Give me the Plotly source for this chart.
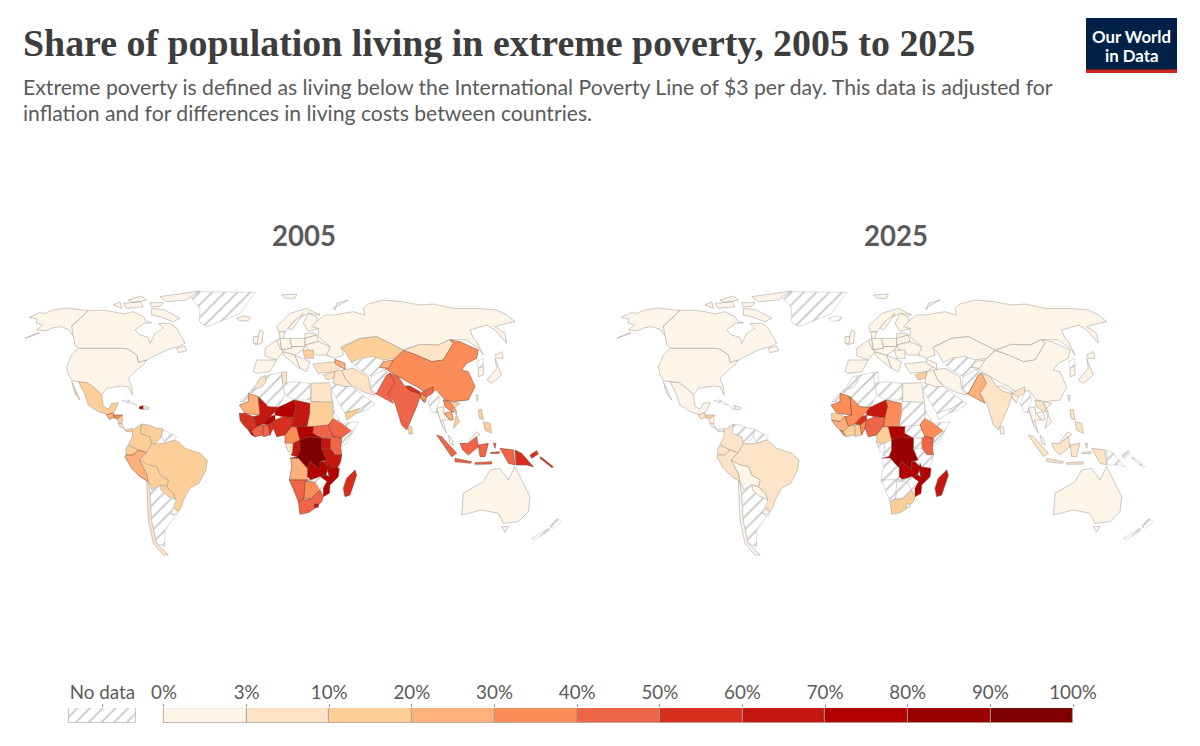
import plotly.graph_objects as go

# the topojson for go.Choropleth is not reachable offline, so outlines are traced by hand from the
# reference. Sheet units are 1/3 px. Countries in east_outlines sit on a sheet shifted 660 units right.
west_outlines = {
    'Alaska': ['88,112 118,98 135,100 160,90 200,84 265,92 215,138 222,152 238,180 232,183 205,148 180,140 160,143 135,153 110,150 128,135 108,128 112,118',
               '75,175 115,157 118,160 78,176'],
    'Canada': ['265,92 300,90 340,95 370,102 400,95 430,110 440,125 455,128 432,130 405,150 420,165 445,172 450,190 465,160 490,145 475,130 510,130 530,145 555,190 535,200 500,210 470,225 440,240 415,248 410,225 385,208 365,205 235,205 225,195 215,140',
               '480,50 600,33 560,60 500,65', '455,85 495,90 540,115 520,125 480,110 455,105', '370,70 420,65 430,80 380,85',
               '340,75 360,65 365,85', '530,205 555,198 560,212 535,218', '385,60 425,48 440,60 400,68', '450,68 490,68 480,80 455,80'],
    'USA': ['235,205 365,205 385,208 410,225 415,248 440,240 430,255 410,270 385,295 395,320 397,345 385,320 365,318 320,325 305,345 285,325 260,308 218,303 205,285 200,260 215,225'],
    'Mexico': ['235,305 262,308 285,325 305,345 310,378 325,388 335,370 355,368 345,392 325,405 295,395 265,375 255,345', '215,305 225,325 240,360 225,340'],
    'Guatemala': ['320,405 340,398 342,412 328,418'],
    'Honduras': ['340,405 368,405 352,418 342,413'],
    'Nicaragua': ['352,418 368,406 366,432 355,430'],
    'Costa Rica': ['355,430 366,432 372,445 360,440'],
    'Panama': ['372,445 378,450 398,445 395,455 380,455'],
    'Cuba': ['365,362 385,360 412,376 395,372'],
    'Haiti': ['418,380 430,377 430,388 418,386'],
    'Dominican Republic': ['430,377 446,382 446,388 430,388'],
    'Colombia': ['425,432 422,460 450,470 455,490 440,518 415,510 385,495 397,470 398,450'],
    'Venezuela': ['425,432 445,435 470,445 488,445 485,470 465,492 455,490 450,470 422,460'],
    'Guianas': ['488,448 530,470 525,480 495,490 485,470'],
    'Ecuador': ['378,505 385,495 415,510 400,525 378,525'],
    'Peru': ['378,525 400,525 415,510 440,518 418,540 440,580 445,605 420,590 395,565 375,530'],
    'Brazil': ['440,518 455,490 465,492 495,490 525,480 540,490 555,505 600,520 622,540 618,570 597,610 570,625 550,660 545,680 535,695 515,680 528,660 520,640 500,620 505,600 480,585 470,560 445,555 418,540'],
    'Bolivia': ['418,540 445,555 470,560 480,585 505,600 500,620 480,615 455,630 445,605 440,580'],
    'Paraguay': ['480,615 500,620 520,640 528,660 505,650 482,630'],
    'Uruguay': ['515,680 535,695 530,705 512,700'],
    'Chile': ['440,605 445,605 450,640 455,720 470,790 505,825 490,825 460,790 445,720'],
    'Argentina': ['445,605 455,630 480,615 482,630 505,650 528,660 520,680 512,700 525,710 495,750 495,800 470,790 455,720 450,640'],
    'Greenland': ['600,35 765,37 745,65 720,100 660,125 620,140 598,125 600,85 570,50'],
    'Iceland': ['710,115 730,108 750,112 745,122 720,123'],
}

east_outlines = {
    'Morocco': ['135,287 120,293 108,315 95,330 125,322 138,305'],
    'Western Sahara': ['60,365 85,340 95,330 108,335 88,340 85,365'],
    'Algeria': ['95,330 125,322 138,305 138,287 185,277 188,310 195,345 175,382 145,380 115,350 95,338'],
    'Tunisia': ['185,277 200,275 200,310 188,310'],
    'Libya': ['188,310 220,305 270,310 273,360 222,360 195,345'],
    'Egypt': ['273,310 330,308 338,367 273,365'],
    'Mauritania': ['58,375 85,365 85,340 115,350 120,405 75,400'],
    'Senegal': ['58,400 75,400 100,410 85,425 60,420'],
    'Mali': ['115,350 145,380 175,382 165,395 150,410 130,432 110,440 100,410 120,405'],
    'Burkina Faso': ['130,432 150,410 165,405 165,420 145,435'],
    'Niger': ['175,382 222,360 228,378 220,412 190,410 165,405 165,395'],
    'Guinea': ['60,420 85,425 100,410 110,440 95,455 85,450 70,435'],
    'Liberia': ['85,450 95,455 105,470 95,465'],
    'Ivory Coast': ['110,440 130,435 130,465 105,470 95,455'],
    'Ghana': ['130,435 145,435 150,465 130,470'],
    'Benin': ['145,435 165,420 160,445 152,465 150,465'],
    'Nigeria': ['165,420 190,410 220,412 215,440 195,465 170,470 160,445'],
    'Cameroon': ['195,465 215,440 230,440 240,480 220,490 195,490'],
    'Chad': ['222,360 270,370 270,400 262,440 230,440 215,440 220,412 228,378'],
    'Sudan': ['273,365 338,367 340,415 325,435 280,440 262,440 270,400 270,370'],
    'South Sudan': ['280,440 325,435 340,470 305,475 278,460'],
    'Central African Republic': ['230,440 262,440 280,440 278,460 305,475 265,470 240,480'],
    'Ethiopia': ['325,435 340,415 365,430 395,452 365,475 340,470'],
    'Eritrea': ['338,367 345,400 365,430 340,415'],
    'Somalia': ['365,430 415,425 380,490 362,500 365,475 395,452'],
    'Kenya': ['330,475 340,470 365,475 362,500 365,525 345,525 330,505'],
    'Uganda': ['305,475 330,475 330,505 305,505'],
    'Gabon': ['195,490 220,490 218,518 205,515'],
    'Congo': ['220,490 240,480 240,510 232,530 212,525 218,518'],
    'DR Congo': ['240,480 265,470 305,475 305,505 320,540 300,545 300,570 270,545 262,565 235,535 210,535 232,530 240,510'],
    'Tanzania': ['305,505 330,505 345,525 365,525 362,545 352,565 325,560 310,545 320,540'],
    'Zambia': ['262,565 270,545 300,570 300,545 310,545 325,560 318,585 300,590 275,600 262,590'],
    'Malawi': ['325,550 335,575 328,590 322,570'],
    'Mozambique': ['325,560 352,565 358,565 355,590 330,615 328,640 310,650 310,625 320,605 300,590 318,585 328,590'],
    'Angola': ['212,535 235,535 262,565 262,590 262,600 208,600 215,560'],
    'Namibia': ['208,600 262,600 288,595 255,605 252,655 235,665 225,640'],
    'Botswana': ['255,605 285,605 300,630 275,655 252,655'],
    'Zimbabwe': ['262,600 275,600 300,590 320,605 300,630 285,605'],
    'South Africa': ['235,665 252,655 252,660 275,655 300,630 310,650 305,665 285,685 265,698 240,703'],
    'Lesotho': ['283,672 295,672 295,682 283,682'],
    'Madagascar': ['405,570 410,585 390,645 375,650 370,625 380,595'],
    'Spain': ['110,240 170,240 150,275 110,280 100,275'],
    'France': ['135,205 170,180 190,215 170,240 135,228'],
    'Benelux': ['170,180 180,175 185,210 180,205'],
    'Denmark': ['178,155 195,155 190,175 180,175'],
    'UK': ['120,150 130,155 125,190 105,195'],
    'Ireland': ['100,170 115,170 112,190 100,190'],
    'Germany': ['180,175 210,175 215,205 185,210'],
    'Italy': ['190,215 225,225 240,265 225,255 190,225'],
    'Poland': ['210,175 255,175 255,200 215,200'],
    'Norway': ['170,140 210,100 260,85 300,105 265,100 225,120 195,155 175,155'],
    'Sweden': ['225,120 250,100 230,130 215,150 205,145'],
    'Finland': ['265,100 290,110 295,145 265,155 250,130'],
    'Baltics': ['255,160 285,160 290,165 255,175'],
    'Belarus': ['255,175 290,165 295,185 255,195'],
    'Ukraine': ['255,195 295,185 330,200 325,225 290,225 265,210'],
    'Romania': ['248,210 280,210 280,235 255,235'],
    'Balkans': ['225,225 250,235 270,245 260,275 240,265'],
    'Central Europe': ['185,210 215,205 215,200 255,200 248,210 225,225 190,215'],
    'Russia': ['275,140 295,120 315,105 340,105 400,95 435,105 430,85 445,72 490,60 545,65 600,75 640,72 700,85 770,85 830,90 860,105 885,125 860,130 825,140 855,160 860,190 825,150 800,135 750,150 760,175 770,185 790,225 775,205 740,180 690,178 655,195 600,193 550,210 520,195 470,170 420,175 365,200 370,225 345,235 320,225 330,200 295,170 295,145',
               '340,85 385,60 350,70 345,90'],
    'Svalbard': ['185,45 230,42 225,55 195,55'],
    'Mongolia': ['553,210 600,193 655,195 690,178 700,190 670,240 635,245 590,225'],
    'Kazakhstan': ['362,205 420,175 470,170 520,195 550,210 525,235 490,240 460,230 420,235 395,248 375,215'],
    'China': ['520,240 550,212 590,225 635,245 670,240 700,190 690,180 720,185 775,210 770,235 740,250 725,270 745,275 765,320 745,360 700,365 675,360 650,330 620,340 590,320 570,310 535,290 510,275 490,260'],
    'Turkmenistan': ['395,248 420,235 460,230 490,240 480,262 500,270 490,270 455,290 420,270'],
    'Kyrgyzstan': ['490,245 520,240 505,265 480,262'],
    'Afghanistan': ['455,290 490,270 510,280 500,285 470,340 450,325'],
    'Iran': ['365,270 400,265 445,290 450,325 465,345 440,340 400,320 375,295'],
    'Pakistan': ['465,340 470,340 500,285 510,280 525,310 505,340 520,370 490,355'],
    'India': ['505,340 525,310 510,280 535,290 555,320 600,340 608,335 640,320 638,340 620,350 610,365 600,350 590,380 560,450 545,435 525,370'],
    'Nepal': ['555,318 570,318 600,335 600,342 570,332'],
    'Bangladesh': ['600,340 620,350 615,368 603,355'],
    'Myanmar': ['625,370 638,340 650,330 660,360 650,385 668,440 655,400 635,395'],
    'Thailand': ['650,385 670,380 672,400 690,420 668,420 680,460 668,440'],
    'Laos': ['670,360 690,365 710,395 695,395 675,380'],
    'Vietnam': ['695,365 720,370 700,390 720,425 700,445 710,400'],
    'Cambodia': ['672,400 695,395 700,420 690,420'],
    'Sri Lanka': ['565,440 575,440 578,462 567,462'],
    'Turkey': ['278,252 345,245 365,260 345,275 295,280'],
    'Caucasus': ['345,238 375,250 375,268 345,250'],
    'Iraq': ['345,275 365,270 375,295 395,320 370,320 340,310'],
    'Syria': ['310,285 345,275 340,295 320,300'],
    'Saudi Arabia': ['325,305 340,310 370,320 395,320 455,365 420,385 375,400 340,340'],
    'Yemen': ['375,400 420,385 410,400 380,420'],
    'Oman': ['420,385 455,365 465,370 440,390 410,400'],
    'North Korea': ['770,245 790,235 790,255 775,265'],
    'South Korea': ['775,265 790,258 790,285 775,290'],
    'Japan': ['800,300 830,265 825,235 845,285 815,310', '825,225 845,215 850,235 830,235'],
    'Taiwan': ['768,345 775,345 772,365'],
    'Philippines': ['775,390 785,388 790,420 778,415', '790,425 810,430 815,460 795,450'],
    'Malaysia': ['745,485 770,455 780,465 770,470 745,490', '685,465 695,475 700,495 690,490'],
    'Indonesia': ['650,465 665,470 710,520 695,530', '705,535 755,545 752,550 705,545', '720,490 745,490 770,470 775,500 745,525 728,510',
                  '775,495 805,490 795,530 780,530', '820,490 828,490 825,505', '812,517 838,515 838,520 812,521', '765,548 815,545 815,552 765,553',
                  '840,505 880,510 885,555 865,550'],
    'Papua New Guinea': ['885,510 905,520 940,560 920,555 888,555', '930,525 950,512 955,522 935,535'],
    'Solomon Islands': ['962,530 1000,560 996,563 960,535'],
    'Australia': ['730,640 790,605 810,570 840,565 865,600 885,560 905,600 930,650 925,695 895,725 850,730 835,700 785,690 725,705'],
    'Tasmania': ['845,740 865,740 855,757'],
    'New Zealand': ['935,775 985,745 990,750 945,778', '990,740 1010,715 1025,725 1000,745'],
}

# estimated share of people below the line; None means no data
share_2005 = {
    'Alaska': 1, 'Canada': 1, 'USA': 1, 'Mexico': 15, 'Guatemala': 25, 'Honduras': 35, 'Nicaragua': 15, 'Costa Rica': 5, 'Panama': 15,
    'Cuba': None, 'Haiti': 75, 'Dominican Republic': 5, 'Colombia': 15, 'Venezuela': 15, 'Guianas': None, 'Ecuador': 15, 'Peru': 25,
    'Brazil': 15, 'Bolivia': 15, 'Paraguay': 15, 'Uruguay': 2, 'Chile': 5, 'Argentina': None, 'Greenland': None, 'Iceland': 1,
    'Morocco': 10, 'Western Sahara': None, 'Algeria': None, 'Tunisia': 5, 'Libya': None, 'Egypt': 5, 'Mauritania': 25, 'Senegal': 55,
    'Mali': 65, 'Burkina Faso': 75, 'Niger': 75, 'Guinea': 55, 'Liberia': 85, 'Ivory Coast': 45, 'Ghana': 45, 'Benin': 60, 'Nigeria': 60,
    'Cameroon': 35, 'Chad': 65, 'Sudan': 15, 'South Sudan': 45, 'Central African Republic': 75, 'Ethiopia': 45, 'Eritrea': None,
    'Somalia': None, 'Kenya': 45, 'Uganda': 65, 'Gabon': 5, 'Congo': 70, 'DR Congo': 95, 'Tanzania': 65, 'Zambia': 75, 'Malawi': 85,
    'Mozambique': 75, 'Angola': 25, 'Namibia': 45, 'Botswana': 35, 'Zimbabwe': None, 'South Africa': 45, 'Lesotho': 70, 'Madagascar': 55,
    'Spain': 1, 'France': 1, 'Benelux': 1, 'Denmark': 1, 'UK': 1, 'Ireland': 1, 'Germany': 1, 'Italy': 1, 'Poland': 1, 'Norway': 1, 'Sweden': 1, 'Finland': 1,
    'Baltics': 1, 'Belarus': 1, 'Ukraine': 1, 'Romania': 12, 'Balkans': 2, 'Central Europe': 1, 'Russia': 1, 'Svalbard': 1, 'Mongolia': 5,
    'Kazakhstan': 15, 'China': 35, 'Turkmenistan': None, 'Kyrgyzstan': 25, 'Afghanistan': None, 'Iran': 5, 'Pakistan': 45, 'India': 45,
    'Nepal': 55, 'Bangladesh': 35, 'Myanmar': None, 'Thailand': 3, 'Laos': 35, 'Vietnam': 15, 'Cambodia': 30, 'Sri Lanka': 15,
    'Turkey': 5, 'Caucasus': 25, 'Iraq': 5, 'Syria': 5, 'Saudi Arabia': None, 'Yemen': 15, 'Oman': None, 'North Korea': None,
    'South Korea': 1, 'Japan': 1, 'Taiwan': 1, 'Philippines': 15, 'Malaysia': 2, 'Indonesia': 45, 'Papua New Guinea': 55,
    'Solomon Islands': 55, 'Australia': 1, 'Tasmania': 1, 'New Zealand': None,
}
share_2025 = {
    'Alaska': 1, 'Canada': 1, 'USA': 1, 'Mexico': 2, 'Guatemala': 5, 'Honduras': 15, 'Nicaragua': 2, 'Costa Rica': 1, 'Panama': 2,
    'Cuba': None, 'Haiti': None, 'Dominican Republic': 1, 'Colombia': 5, 'Venezuela': None, 'Guianas': None, 'Ecuador': 5, 'Peru': 5,
    'Brazil': 5, 'Bolivia': 2, 'Paraguay': 2, 'Uruguay': 1, 'Chile': 1, 'Argentina': None, 'Greenland': None, 'Iceland': None,
    'Morocco': None, 'Western Sahara': None, 'Algeria': None, 'Tunisia': None, 'Libya': None, 'Egypt': 2, 'Mauritania': 35, 'Senegal': 15,
    'Mali': 35, 'Burkina Faso': 55, 'Niger': 65, 'Guinea': 25, 'Liberia': 35, 'Ivory Coast': 15, 'Ghana': 15, 'Benin': 35, 'Nigeria': 45,
    'Cameroon': 15, 'Chad': 35, 'Sudan': None, 'South Sudan': None, 'Central African Republic': 75, 'Ethiopia': 35, 'Eritrea': None,
    'Somalia': None, 'Kenya': 45, 'Uganda': None, 'Gabon': None, 'Congo': None, 'DR Congo': 85, 'Tanzania': None, 'Zambia': 75, 'Malawi': 85,
    'Mozambique': 75, 'Angola': None, 'Namibia': None, 'Botswana': None, 'Zimbabwe': None, 'South Africa': 15, 'Lesotho': 2, 'Madagascar': 65,
    'Spain': 1, 'France': 1, 'Benelux': 1, 'Denmark': 1, 'UK': 1, 'Ireland': 1, 'Germany': 1, 'Italy': 1, 'Poland': 1, 'Norway': 1, 'Sweden': 1, 'Finland': 1,
    'Baltics': 1, 'Belarus': 1, 'Ukraine': 1, 'Romania': 2, 'Balkans': 1, 'Central Europe': 1, 'Russia': 1, 'Svalbard': 1, 'Mongolia': 1,
    'Kazakhstan': 1, 'China': 1, 'Turkmenistan': None, 'Kyrgyzstan': 1, 'Afghanistan': None, 'Iran': 1, 'Pakistan': 25, 'India': 5,
    'Nepal': 1, 'Bangladesh': 2, 'Myanmar': None, 'Thailand': 1, 'Laos': 5, 'Vietnam': 1, 'Cambodia': 1, 'Sri Lanka': 2,
    'Turkey': 1, 'Caucasus': 1, 'Iraq': 1, 'Syria': 15, 'Saudi Arabia': None, 'Yemen': None, 'Oman': None, 'North Korea': None,
    'South Korea': 1, 'Japan': 1, 'Taiwan': 1, 'Philippines': 5, 'Malaysia': 1, 'Indonesia': 5, 'Papua New Guinea': None,
    'Solomon Islands': None, 'Australia': 1, 'Tasmania': 1, 'New Zealand': None,
}

bin_edges = [0, 3, 10, 20, 30, 40, 50, 60, 70, 80, 90, 100]
bin_colors = ['#fef5e9', '#fee4c6', '#fdcf98', '#fdb27b', '#fc8d59', '#ef6548', '#d7301f', '#c4170f', '#b30000', '#990000', '#7f0000']
map_years = ['2005', '2025']

PANEL_SHIFT = 591.7  # px between the two maps
EAST_SHEET = 660
# the page body keeps an 8px margin, so the figure is 16px smaller than the window
FIG_W = 1184
FIG_H = 730


def fx(px):
    return (px - 8) / FIG_W


def fy(py):
    return 1 - (py - 8) / FIG_H


def bin_color(v):
    for i, c in enumerate(bin_colors):
        if v <= bin_edges[i + 1]:
            return c
    return bin_colors[-1]


def outline_xy(parts, dx):
    xs, ys = [], []
    for part in parts:
        pairs = [p.split(',') for p in part.split()]
        pairs.append(pairs[0])
        xs += [int(a) + dx for a, b in pairs] + [None]
        ys += [int(b) for a, b in pairs] + [None]
    return xs, ys


def country_trace(name, parts, dx, v, axis):
    xs, ys = outline_xy(parts, dx)
    if v is None:
        extra = dict(fillcolor='white', fillpattern=dict(shape='/', fgcolor='#c8c8c8', bgcolor='white', size=9, solidity=0.2),
                     line=dict(color='#b8b8b8', width=0.5))
    else:
        line_color = '#9a948c' if v <= 20 else '#7a3a2a'
        extra = dict(fillcolor=bin_color(v), line=dict(color=line_color, width=0.5))
    return go.Scatter(x=xs, y=ys, mode='lines', fill='toself', name=name, showlegend=False, hoverinfo='name',
                      xaxis='x' + axis, yaxis='y' + axis, **extra)


fig = go.Figure()

for axis, shares in [('', share_2005), ('2', share_2025)]:
    for name, parts in west_outlines.items():
        fig.add_trace(country_trace(name, parts, 0, shares[name], axis))
    for name, parts in east_outlines.items():
        fig.add_trace(country_trace(name, parts, EAST_SHEET, shares[name], axis))

# legend bar: one unit per colour bin, labels on the bin edges
fig.add_trace(go.Bar(x=[i + 0.5 for i in range(len(bin_colors))], y=[1] * len(bin_colors), width=1,
                     marker=dict(color=bin_colors, line=dict(color='#a59d95', width=0.8)),
                     xaxis='x3', yaxis='y3', showlegend=False, hoverinfo='skip'))
fig.add_trace(go.Bar(x=[-0.7445], y=[1], width=0.81,
                     marker=dict(color='white', line=dict(color='#b5b5b5', width=0.8),
                                 pattern=dict(shape='/', fgcolor='#c8c8c8', bgcolor='white', size=9, solidity=0.2)),
                     xaxis='x3', yaxis='y3', showlegend=False, hoverinfo='skip'))

hidden = dict(visible=False, showgrid=False, zeroline=False, automargin=False)
fig.update_layout(
    template='none', showlegend=False,
    width=FIG_W, height=FIG_H, margin=dict(l=0, r=0, t=0, b=0, pad=0), paper_bgcolor='white', plot_bgcolor='white', bargap=0,
    font=dict(family='Lato', color='#5b5b5b'),
    xaxis=dict(domain=[fx(8), fx(598)], range=[24, 1794], **hidden),
    yaxis=dict(domain=[fy(575), fy(280)], range=[885, 0], **hidden),
    xaxis2=dict(domain=[fx(8 + PANEL_SHIFT), fx(598 + PANEL_SHIFT)], range=[24, 1794], **hidden),
    yaxis2=dict(domain=[fy(575), fy(280)], range=[885, 0], **hidden),
    xaxis3=dict(domain=[fx(64.8), fx(1081.3)], range=[-1.2, 11.1], side='top', anchor='y3', showgrid=False, zeroline=False, automargin=False,
                tickmode='array', tickvals=[-0.7445] + list(range(len(bin_edges))),
                ticktext=['No data'] + [str(e) + '%' for e in bin_edges], ticklabelstandoff=-3,
                ticks='outside', ticklen=3, tickwidth=1, tickcolor='#9a9a9a', tickfont=dict(family='Lato', size=18.8, color='#5b5b5b'), showline=False),
    yaxis3=dict(domain=[fy(723), fy(708)], range=[0, 1], anchor='x3', **hidden),
)

# logo
fig.add_shape(type='rect', xref='paper', yref='paper', x0=fx(1086), x1=fx(1177), y0=fy(73), y1=fy(18), fillcolor='#002147', line_width=0)
fig.add_shape(type='rect', xref='paper', yref='paper', x0=fx(1086), x1=fx(1177), y0=fy(73), y1=fy(69.5), fillcolor='#ce261e', line_width=0)


def put_text(text, px, py, size, color, family='Lato', anchor='left'):
    fig.add_annotation(text=text, xref='paper', yref='paper', x=fx(px), y=fy(py), xanchor=anchor, yanchor='middle',
                       showarrow=False, align=anchor, font=dict(family=family, size=size, color=color))


put_text('<b>Share of population living in extreme poverty, 2005 to 2025</b>', 20.5, 43.5, 37.9, '#3d3d3d', family='Liberation Serif')
put_text('Extreme poverty is defined as living below the International Poverty Line of $3 per day. This data is adjusted for', 21, 87, 21.2, '#5b5b5b')
put_text('inflation and for differences in living costs between countries.', 21, 113, 21.2, '#5b5b5b')
put_text('<b>' + map_years[0] + '</b>', 304, 235, 27.6, '#5b5b5b', anchor='center')
put_text('<b>' + map_years[1] + '</b>', 895.5, 235, 27.6, '#5b5b5b', anchor='center')
put_text('<b>Our World</b>', 1131.5, 36.5, 16.8, 'white', anchor='center')
put_text('<b>in Data</b>', 1131.5, 55, 16.8, 'white', anchor='center')

fig.write_html("out.html")
